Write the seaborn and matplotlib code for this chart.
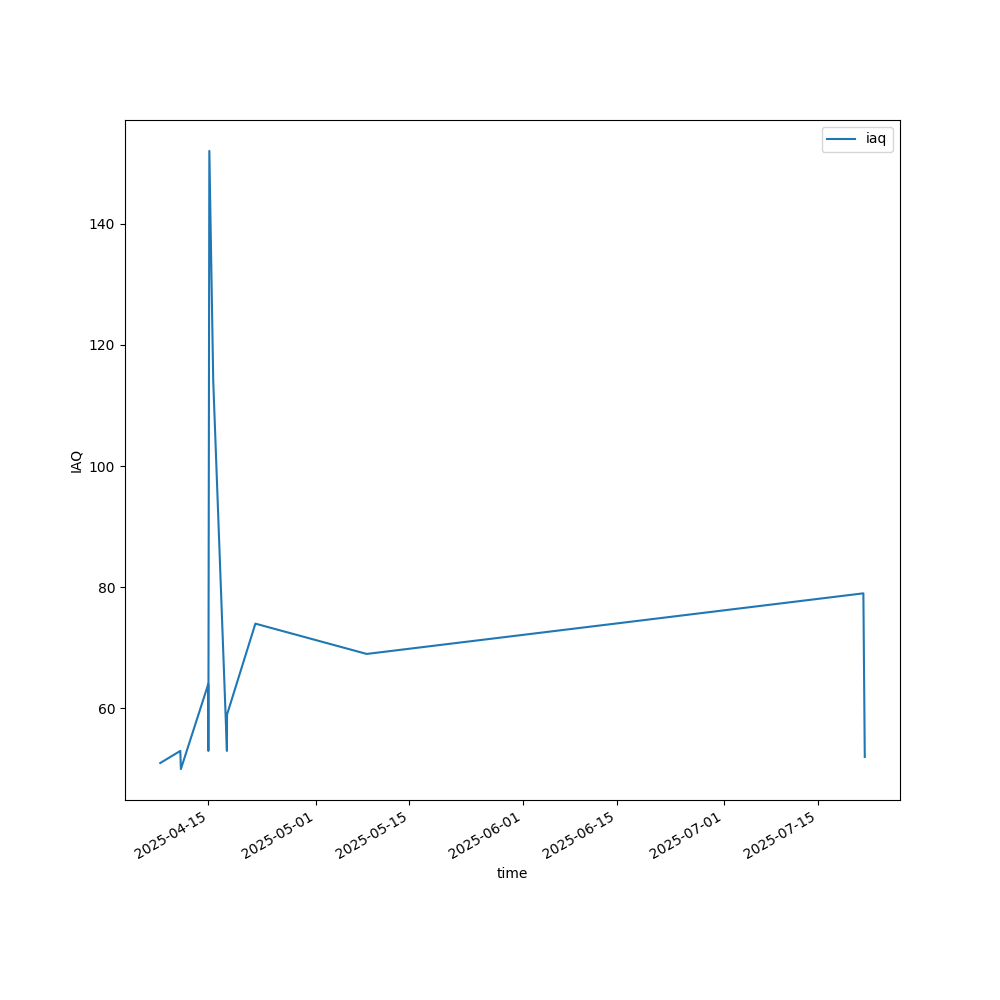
import pandas as pd
import seaborn as sns
import matplotlib
matplotlib.use("Agg")
import matplotlib.pyplot as plt

# readings
times = [
    "2025-04-07 19:00", "2025-04-10 19:00", "2025-04-10 21:00",
    "2025-04-14 23:00", "2025-04-14 23:30", "2025-04-15 03:00",
    "2025-04-15 17:00", "2025-04-17 18:00", "2025-04-17 18:30",
    "2025-04-22 00:00", "2025-05-08 15:00", "2025-07-21 19:00",
    "2025-07-22 00:00",
]
iaq = [51, 53, 50, 64, 53, 152, 114, 53, 59, 74, 69, 79, 52]

df = pd.DataFrame({"time": pd.to_datetime(times), "iaq": iaq})

fig, ax = plt.subplots(figsize=(10, 10), dpi=100)
sns.lineplot(data=df, x="time", y="iaq", ax=ax, label="iaq",
             estimator=None, sort=False, color="#1f77b4")
ax.set_xlabel("time")
ax.set_ylabel("IAQ")
ax.legend(loc="upper right")
fig.autofmt_xdate()

plt.savefig("out.png")
